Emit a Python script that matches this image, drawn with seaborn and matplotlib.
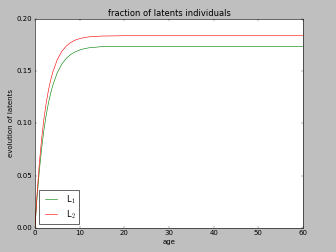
import matplotlib
matplotlib.use("Agg")
import matplotlib.pyplot as plt
import seaborn as sns
import pandas as pd

ages = [0, 0.5, 1, 1.5, 2, 2.5, 3, 3.5, 4, 5, 6, 7, 8, 9, 10, 11, 12, 15, 20, 30, 40, 50, 60]
L1 = [0, 0.0304, 0.0555, 0.0762, 0.0934, 0.1075, 0.1191, 0.1287, 0.1366, 0.1486,
      0.1567, 0.1622, 0.1660, 0.1685, 0.1703, 0.1715, 0.1723, 0.1735, 0.1738,
      0.1738, 0.1738, 0.1738, 0.1738]
L2 = [0, 0.0346, 0.0627, 0.0855, 0.1040, 0.1191, 0.1313, 0.1412, 0.1492, 0.1611,
      0.1689, 0.1740, 0.1774, 0.1797, 0.1811, 0.1821, 0.1828, 0.1836, 0.1839,
      0.1839, 0.1839, 0.1839, 0.1839]
labels = ["L$_1$", "L$_2$"]

df = pd.DataFrame({
    "age": ages * 2,
    "value": L1 + L2,
    "series": [labels[0]] * len(ages) + [labels[1]] * len(ages),
})

plt.style.use("classic")
fig, ax = plt.subplots(figsize=(8, 6), dpi=42, facecolor="0.75")
fig.subplots_adjust(left=0.104, right=0.902, top=0.925, bottom=0.095)

sns.lineplot(data=df, x="age", y="value", hue="series",
             palette={labels[0]: "g", labels[1]: "r"}, ax=ax, linewidth=1)

ax.set_xlim(0, 60)
ax.set_ylim(0, 0.2)
ax.set_xticks([0, 10, 20, 30, 40, 50, 60])
ax.set_yticks([0, 0.05, 0.10, 0.15, 0.20])
ax.set_yticklabels(["0.00", "0.05", "0.10", "0.15", "0.20"])
ax.set_xlabel("age")
ax.set_ylabel("evolution of latents")
ax.set_title("fraction of latents individuals")
ax.legend(loc="lower left", labelspacing=0.3)

fig.savefig("out.png", dpi=42, facecolor=fig.get_facecolor())
